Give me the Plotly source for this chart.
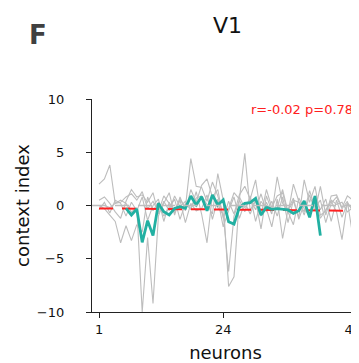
import plotly.graph_objects as go

neurons = list(range(1, 49))

gray_1 = [2.0, 2.5, 3.8, 0.2, 0.3, 0.8, 1.1, 0.5, 1.3, -0.3, 0.4, -0.6, 0.9, 0.2, -0.5, 0.6,
          -0.2, 4.4, 1.8, 1.7, 0.4, 2.2, 0.9, -1.0, -0.3, 1.2, 0.6, 4.9, -0.5, 0.6, -1.0, 0.3,
          -0.8, 2.7, 0.2, -0.5, 0.4, -1.1, 2.4, 0.3, 1.8, -0.9, -0.5, 0.5, 0.1, 0.3, -0.6, -0.2]
gray_2 = [0.0, -0.3, -0.9, -1.5, -3.5, -1.9, -3.3, -1.8, -2.5, 0.8, -0.5, 0.3, -1.0, -0.2, 0.6, -1.3,
          0.2, -0.4, 1.3, -0.8, -3.5, 1.0, -0.2, -0.8, -6.2, -1.0, 0.5, -0.6, 0.9, -1.5, 0.4, -0.3,
          -2.0, 0.6, -3.1, -0.4, 0.7, -1.3, 0.2, -0.8, 0.5, -1.2, -0.4, 0.4, -0.6, -3.2, 0.3, -0.5]
gray_3 = [0.0, 0.0, -0.2, 0.2, 0.5, 0.2, -0.6, -0.2, -10.0, -3.0, -9.2, -1.0, 0.4, -0.5, 0.9, -0.1,
          0.4, -0.3, 0.7, 0.9, 0.1, -0.8, 3.0, 0.5, -7.6, -6.7, 0.8, -0.2, 0.6, -0.4, 1.1, -0.6,
          0.4, -1.0, 0.8, -1.6, 0.5, 0.3, -0.6, 1.4, -0.2, 0.5, -1.6, 0.2, 0.8, -0.3, 0.4, -2.9]
gray_4 = [0.5, 0.8, 0.2, -0.6, -1.2, 0.4, 1.5, 0.8, 1.0, 0.3, 1.2, -0.8, 0.2, 1.2, -0.9, 0.8,
          -0.5, 1.5, 0.3, 1.9, 2.5, 0.8, 1.5, -1.2, 0.4, -0.8, 1.0, 1.8, 0.6, 2.4, -0.9, 1.5,
          -0.2, 0.9, 1.2, -0.7, 2.0, 0.4, -0.9, 1.0, -0.5, 1.8, -0.9, 0.9, 1.0, -0.2, 0.9, 0.5]
gray_5 = [-0.4, 0.3, -0.7, 0.5, 0.2, -1.0, 0.3, -0.5, 0.8, -1.4, 0.0, 0.6, -1.5, 0.3, -0.7, 0.5,
          -1.6, 0.2, -0.5, -0.3, 1.0, -1.3, 0.6, -2.0, -0.5, 0.8, -1.2, 0.3, -0.8, 0.5, -2.2, 0.9,
          -0.5, -0.2, 1.5, -0.6, -1.8, 0.7, -0.3, -1.0, 0.9, -0.4, 0.6, -1.5, 0.5, -1.1, 0.2, -0.4]
gray_lines = [gray_1, gray_2, gray_3, gray_4, gray_5]

mean_neurons = list(range(6, 43))
mean_values = [-0.27, -0.89, -0.33, -3.46, -1.42, -2.83, 0.20, -0.58, -0.89, -0.27, -0.11, -0.27,
               0.89, 0.05, 0.83, -0.49, 0.99, 0.05, 0.52, -1.52, -1.74, -0.17, 0.20, 0.27, 0.67,
               -0.89, -0.17, -0.36, -0.30, -0.36, -0.42, -0.74, -0.49, 0.42, -1.11, 0.89, -2.83]

fit_x = [1, 48]
fit_y = [-0.27, -0.49]

x_ticks = [1, 24, 48]
y_ticks = [-10, -5, 0, 5, 10]
stats_text = "r=-0.02 p=0.78"

FONT = "DejaVu Sans"

# plot area in window pixels: x 92..359, y 99..312 (page body has an 8px margin)
PL, PR, PT, PB = 92, 359, 99, 312
FIG_W, FIG_H = 359, 355


def px(X):
    return (X - PL) / (PR - PL)


def py(Y):
    return 1 - (Y - PT) / (PB - PT)


fig = go.Figure()
for g in gray_lines:
    fig.add_trace(go.Scatter(x=neurons, y=g, mode="lines",
                             line=dict(color="#bdbdbd", width=1.1), showlegend=False))

fig.add_shape(type="line", xref="paper", x0=0, x1=1, yref="y", y0=0, y1=0,
              line=dict(color="#bdbdbd", width=1.5, dash="14px,9px"), layer="above")

fig.add_trace(go.Scatter(x=fit_x, y=fit_y, mode="lines",
                         line=dict(color="#ff2020", width=2, dash="14px,9px"), showlegend=False))
fig.add_trace(go.Scatter(x=mean_neurons, y=mean_values, mode="lines",
                         line=dict(color="#22b0a2", width=2.8), showlegend=False))

axis_common = dict(showgrid=False, zeroline=False, showline=True, linecolor="#222",
                   linewidth=1.3, ticks="outside", ticklen=5, tickwidth=1.3, tickcolor="#222",
                   tickfont=dict(family=FONT, size=13, color="#111"), automargin=False,
                   ticklabeloverflow="allow")

fig.update_layout(
    width=FIG_W, height=FIG_H,
    margin=dict(l=PL - 8, r=FIG_W + 8 - PR, t=PT - 8, b=FIG_H - (PB - 8)),
    plot_bgcolor="white", paper_bgcolor="white",
    xaxis=dict(range=[-0.3, 49.15], tickvals=x_ticks, ticktext=[str(t) for t in x_ticks],
               title=dict(text="neurons", font=dict(family=FONT, size=18, color="#111"), standoff=10),
               **axis_common),
    yaxis=dict(range=[-10, 10], tickvals=y_ticks, ticktext=["\u221210", "\u22125", "0", "5", "10"],
               ticklabelstandoff=19,
               title=dict(text="context index", font=dict(family=FONT, size=18, color="#111"), standoff=2),
               **axis_common),
    annotations=[
        dict(text="V1", xref="paper", yref="paper", x=px(227), y=py(26),
             showarrow=False, font=dict(family=FONT, size=22, color="#111"), xanchor="center", yanchor="middle"),
        dict(text="<b>F</b>", xref="paper", yref="paper", x=px(38), y=py(35),
             showarrow=False, font=dict(family=FONT, size=26, color="#404040"), xanchor="center", yanchor="middle"),
        dict(text=stats_text, xref="paper", yref="paper", x=px(355), y=py(109),
             showarrow=False, font=dict(family=FONT, size=13, color="#ff2020"), xanchor="right", yanchor="middle"),
    ],
)

fig.write_html("out.html")
